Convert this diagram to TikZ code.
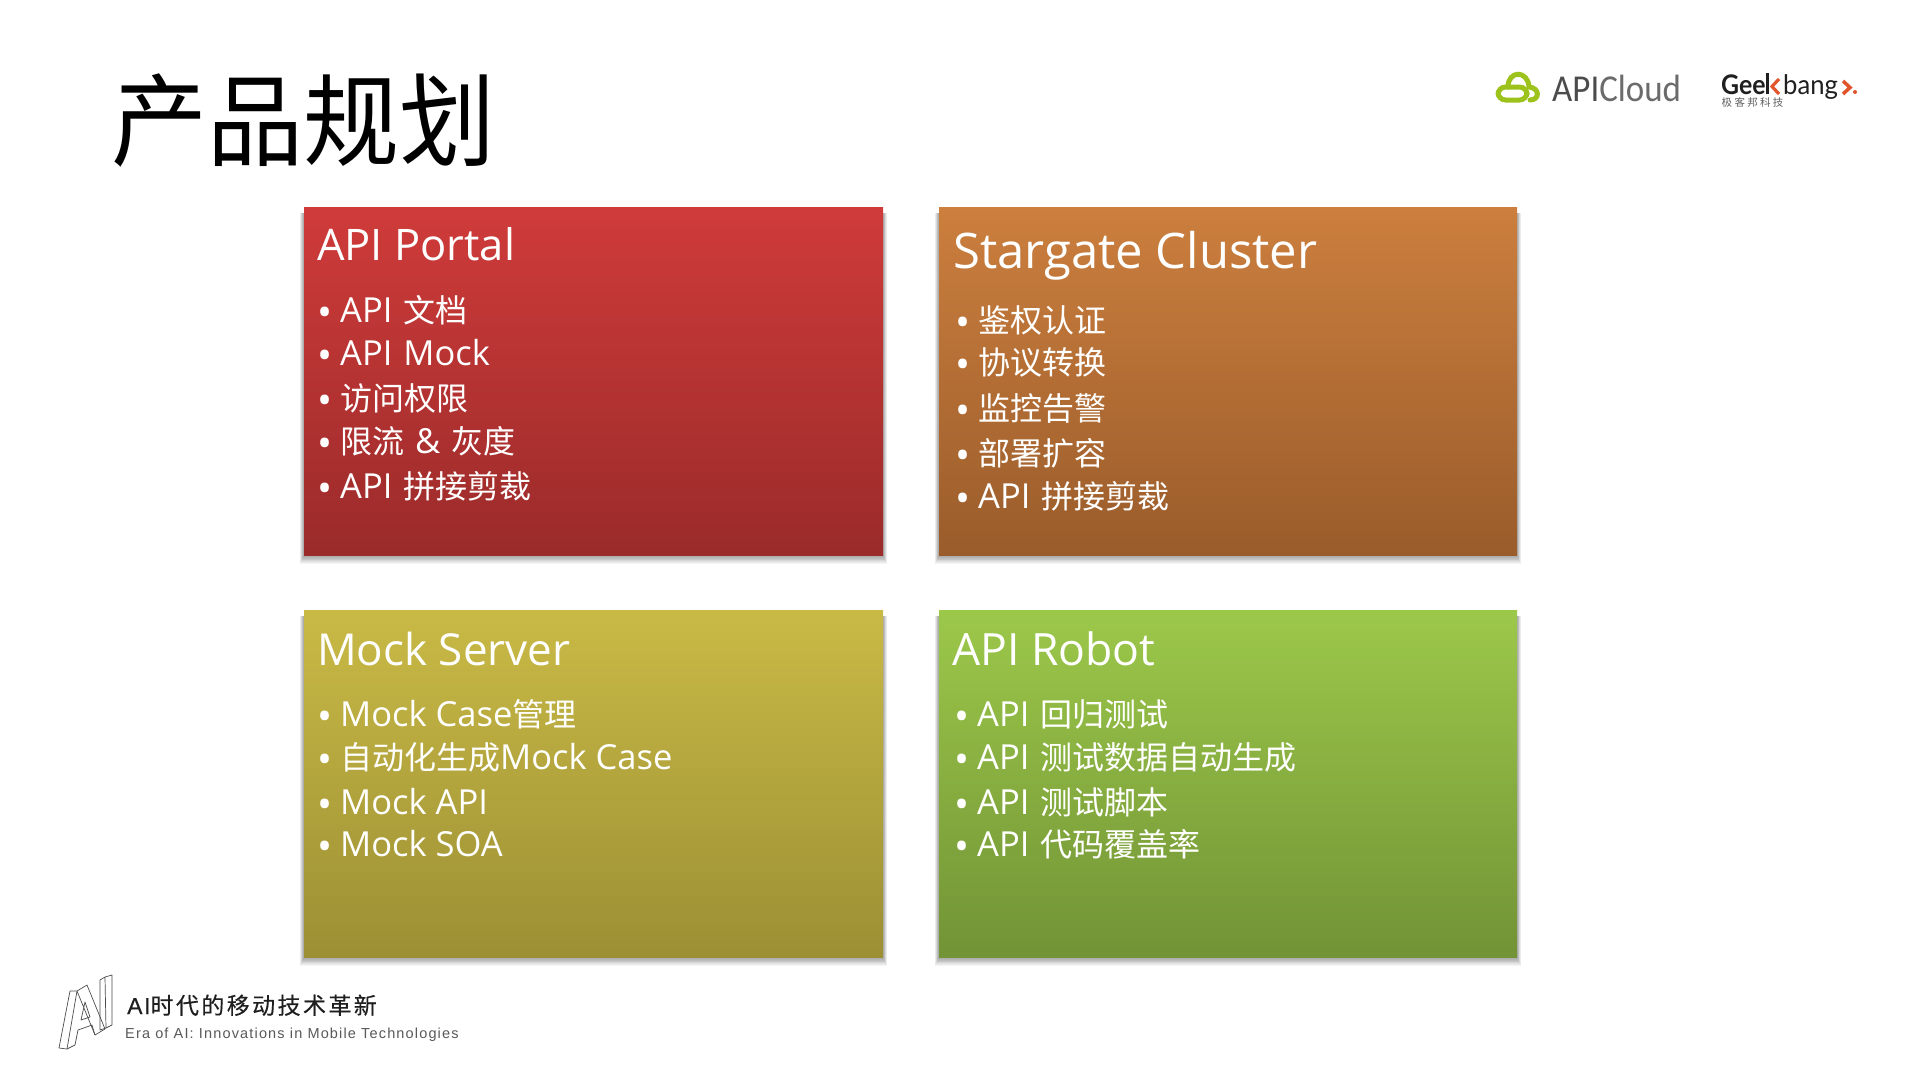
\documentclass[tikz,border=0pt]{standalone}
\usepackage{fontspec}
\setmainfont{Open Sans}
\newfontfamily\cjk{Noto Sans CJK SC}
\newfontfamily\cjkspaced[LetterSpace=10.5,FakeBold=0.3]{Noto Sans CJK SC}
\newfontfamily\logofont{Carlito}
\newfontfamily\geekfont{Lato}
\newfontfamily\eraf[LetterSpace=8]{Liberation Sans}
\newfontfamily\eraa[LetterSpace=7,FakeBold=0.3]{Liberation Sans}
\newcommand{\zh}[1]{{\fontsize{32}{32}\cjk #1}}
\newcommand{\bul}[1]{\makebox[23pt][l]{\raisebox{-4pt}{\fontsize{40}{40}\selectfont\textbullet}}#1}
\newcommand{\gp}{\hspace{2pt}}
\definecolor{redT}{HTML}{CF3B3A}\definecolor{redB}{HTML}{9A2B2A}
\definecolor{orT}{HTML}{CC7F3E}\definecolor{orB}{HTML}{9A5C2B}
\definecolor{olT}{HTML}{C9BA46}\definecolor{olB}{HTML}{9C8F34}
\definecolor{grT}{HTML}{9CC84A}\definecolor{grB}{HTML}{729336}
\definecolor{cloudG}{HTML}{9DC21C}
\definecolor{geekO}{HTML}{E0552C}
\tikzset{
  panel/.style={minimum width=579pt,minimum height=348pt,inner sep=0pt,outer sep=0pt,anchor=north west},
  ttl/.style={anchor=base west,inner sep=0pt,text=white},
  item/.style={anchor=base west,inner sep=0pt,text=white,font=\fontsize{34.5}{34.5}\selectfont},
  logotxt/.style={anchor=base west,inner sep=0pt},
}
\newcommand{\shad}[4]{\foreach \d in {1,2,...,10}{\fill[black,opacity=.04] (#1-\d*0.4,#2+6) rectangle (#3+\d*0.4,#4+\d*0.9);}}
\begin{document}
\begin{tikzpicture}[x=1pt,y=-1pt]
\useasboundingbox[fill=white] (0,0) rectangle (1919,1079);
\node[logotxt,font=\fontsize{96}{96}\selectfont\cjk] (title) at (111,158.5) {\scalebox{1}[1.05]{产品规划}};
% panels
\shad{304}{207}{883}{555}\shad{939}{207}{1517}{555}\shad{304}{610}{883}{957}\shad{939}{610}{1517}{957}
\node[panel,top color=redT,bottom color=redB] (p1) at (304,207) {};
\node[panel,top color=orT,bottom color=orB,minimum width=578pt] (p2) at (939,207) {};
\node[panel,top color=olT,bottom color=olB,minimum height=347pt] (p3) at (304,610) {};
\node[panel,top color=grT,bottom color=grB,minimum width=578pt,minimum height=347pt] (p4) at (939,610) {};
% panel 1
\node[ttl,font=\fontsize{43.5}{43.5}\selectfont] (t1) at (317,260) {API Portal};
\node[item] (a1) at (317,322) {\bul{API\gp{} \zh{文档}}};
\node[item] (a2) at (317,365) {\bul{API\gp{} Mock}};
\node[item] (a3) at (317,410) {\bul{\zh{访问权限}}};
\node[item] (a4) at (317,453) {\bul{\zh{限流}\gp{} \&\gp{} \zh{灰度}}};
\node[item] (a5) at (317,498) {\bul{API\gp{} \zh{拼接剪裁}}};
% panel 2
\node[ttl,font=\fontsize{49}{49}\selectfont] (t2) at (953,268) {Stargate Cluster};
\node[item] (b1) at (955,332) {\bul{\zh{鉴权认证}}};
\node[item] (b2) at (955,374) {\bul{\zh{协议转换}}};
\node[item] (b3) at (955,420) {\bul{\zh{监控告警}}};
\node[item] (b4) at (955,465) {\bul{\zh{部署扩容}}};
\node[item] (b5) at (955,508) {\bul{API\gp{} \zh{拼接剪裁}}};
% panel 3
\node[ttl,font=\fontsize{44}{44}\selectfont] (t3) at (317,665) {Mock Server};
\node[item] (c1) at (317,726) {\bul{Mock Case\zh{管理}}};
\node[item] (c2) at (317,769) {\bul{\zh{自动化生成}Mock Case}};
\node[item] (c3) at (317,814) {\bul{Mock API}};
\node[item] (c4) at (317,856) {\bul{Mock SOA}};
% panel 4
\node[ttl,font=\fontsize{44.5}{44.5}\selectfont] (t4) at (952,665) {API Robot};
\node[item] (d1) at (954,726) {\bul{API\gp{} \zh{回归测试}}};
\node[item] (d2) at (954,769) {\bul{API\gp{} \zh{测试数据自动生成}}};
\node[item] (d3) at (954,814) {\bul{API\gp{} \zh{测试脚本}}};
\node[item] (d4) at (954,856) {\bul{API\gp{} \zh{代码覆盖率}}};
% APICloud logo
\draw[cloudG,line width=5pt,rounded corners=7.5pt] (1498,87) rectangle (1527,100);
\draw[cloudG,line width=5pt,line cap=round] (1508,87) .. controls (1508,70) and (1528,70) .. (1529,87) .. controls (1540,88) and (1540,100) .. (1530,100);
\node[logotxt,text=black!70,font=\fontsize{38}{38}\logofont] (apic) at (1552,101) {\scalebox{.92}[1]{API\textcolor{black!58}{Cloud}}};
% Geekbang logo
\node[logotxt,text=black!88,font=\fontsize{27}{27}\geekfont\bfseries] (gee) at (1721,94) {\scalebox{.92}[1]{Gee}};
\coordinate (k1) at (1767.5,73); \coordinate (k2) at (1767.5,94);
\draw[black!88,line width=3pt] (k1) -- (k2);
\coordinate (k3) at (1779,79); \coordinate (k4) at (1772,86.5); \coordinate (k5) at (1779,94);
\draw[geekO,line width=3.2pt] (k3) -- (k4) -- (k5);
\node[logotxt,text=black!88,font=\fontsize{27}{27}\geekfont] (bang) at (1783,94) {\scalebox{.95}[1]{bang}};
\coordinate (k6) at (1843,81); \coordinate (k7) at (1850,87.5); \coordinate (k8) at (1843,94);
\draw[geekO,line width=3.5pt] (k6) -- (k7) -- (k8);
\coordinate (kd) at (1855,92);
\fill[geekO] (kd) circle (2pt);
\node[logotxt,text=black!62,font=\fontsize{10.5}{10.5}\cjk] (geekzh) at (1721.5,106) {极\hspace{2.3pt}客\hspace{2.3pt}邦\hspace{2.3pt}科\hspace{2.3pt}技};
% AI logo
\draw[black!70,line width=.7pt,line join=round] (59,1048) -- (70,991) -- (77,991) -- (87,985) -- (105,1029) -- (95,1035) -- (92,1025) -- (78,1030) -- (75,1045) -- (67,1049) -- cycle;
\draw[black!70,line width=.7pt,line join=round] (77,991) -- (67,1049) (77,991) -- (95,1035) (81,1020) -- (85,1002) -- (90,1017) -- cycle;
\draw[black!70,line width=.7pt,line join=round] (100,980) -- (105,977) -- (112,975) -- (112,1025) -- (106,1028) -- (100,1030) -- cycle (105,977) -- (106,1028);
\node[logotxt,text=black!88,font=\fontsize{23}{23}\eraa] (era1) at (127,1014) {AI{\cjkspaced 时代的移动技术革新}};
\node[logotxt,text=black!65,font=\fontsize{14.5}{14.5}\eraf] (era2) at (125,1038) {Era of AI: Innovations in Mobile Technologies};
\end{tikzpicture}
\end{document}
